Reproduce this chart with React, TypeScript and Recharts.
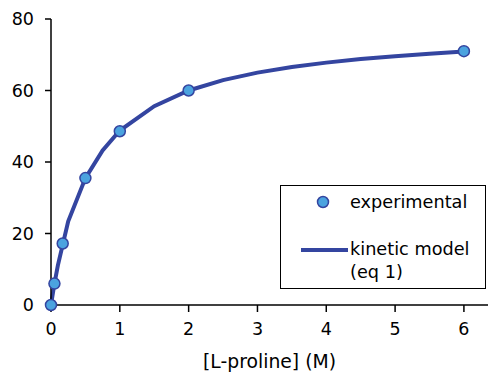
import React from 'react';
import {
  ComposedChart,
  Line,
  Scatter,
  XAxis,
  YAxis,
  Legend,
} from 'recharts';

// experimental points
const expX = [0, 0.05, 0.17, 0.5, 1, 2, 6];
const expY = [0, 6, 17.2, 35.5, 48.6, 60, 71];

// kinetic model (eq 1) curve
const modelX = [0, 0.05, 0.1, 0.25, 0.5, 0.75, 1, 1.5, 2, 2.5, 3, 3.5, 4, 4.5, 5, 5.5, 6];
const modelY = [0, 6, 11.1, 23.4, 35.5, 43.2, 48.8, 55.6, 60, 62.9, 65, 66.6, 67.8, 68.8, 69.6, 70.3, 70.9];

const xTicks = [0, 1, 2, 3, 4, 5, 6];
const yTicks = [0, 20, 40, 60, 80];

const LINE_COLOR = '#3445A0';
const DOT_FILL = '#4BA3DF';
const FONT = 'Verdana, "DejaVu Sans", sans-serif';

const expData = expX.map((x, i) => ({x, y: expY[i]}));
const modelData = modelX.map((x, i) => ({x, y: modelY[i]}));

const Dot = (props: any) => {
  const {cx, cy} = props;
  if (cx == null || cy == null) return null;
  return (
    <circle cx={cx} cy={cy} r={5.5} fill={DOT_FILL} stroke={LINE_COLOR} strokeWidth={1.5} />
  );
};

const renderLegend = () => (
  <div
    style={{
      width: 206,
      height: 104,
      border: '1.5px solid #000',
      background: '#fff',
      fontFamily: FONT,
      fontSize: 17.7,
      color: '#000',
      position: 'relative',
      boxSizing: 'border-box',
    }}>
    <svg width={70} height={100} style={{position: 'absolute', left: 0, top: 0}}>
      <circle cx={42} cy={16} r={5.5} fill={DOT_FILL} stroke={LINE_COLOR} strokeWidth={1.5} />
      <line x1={20} y1={64} x2={67} y2={64} stroke={LINE_COLOR} strokeWidth={4} />
    </svg>
    <div style={{position: 'absolute', left: 69, top: 5, lineHeight: '22px'}}>experimental</div>
    <div style={{position: 'absolute', left: 69, top: 52, lineHeight: '23px'}}>
      kinetic model
      <br />
      (eq 1)
    </div>
  </div>
);

export default function App() {
  return (
    <div style={{position: 'absolute', left: 0, top: 0, width: 488, height: 375, background: '#fff'}}>
      <ComposedChart width={488} height={375} margin={{top: 19, right: 0, bottom: 0, left: 0}}>
        <XAxis
          type='number'
          dataKey='x'
          domain={[0, 6.35]}
          ticks={xTicks}
          height={70}
          tickSize={7}
          tickMargin={11}
          stroke='#000'
          strokeWidth={1.5}
          tick={{fill: '#000', fontSize: 17.5, fontFamily: FONT}}
          label={{
            value: '[L-proline] (M)',
            position: 'insideBottom',
            offset: 7,
            fill: '#000',
            fontSize: 18.8,
            fontFamily: FONT,
          }}
        />
        <YAxis
          type='number'
          dataKey='y'
          domain={[0, 80]}
          ticks={yTicks}
          width={51}
          tickSize={6}
          tickMargin={11}
          stroke='#000'
          strokeWidth={1.5}
          tick={{fill: '#000', fontSize: 17.5, fontFamily: FONT}}
        />
        <Legend
          layout='horizontal'
          verticalAlign='middle'
          align='center'
          content={renderLegend}
          wrapperStyle={{left: 280, top: 185, width: 206, height: 104}}
        />
        <Line
          data={modelData}
          dataKey='y'
          type='linear'
          stroke={LINE_COLOR}
          strokeWidth={4}
          dot={false}
          isAnimationActive={false}
        />
        <Scatter
          data={expData}
          dataKey='y'
          shape={<Dot />}
          isAnimationActive={false}
        />
      </ComposedChart>
    </div>
  );
}
